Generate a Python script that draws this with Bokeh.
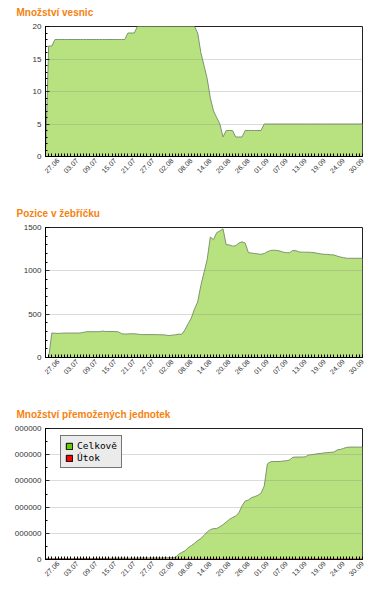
import math
from bokeh.plotting import figure
from bokeh.models import (FixedTicker, SingleIntervalTicker, Legend, LegendItem,
                          ColumnDataSource, Range1d)
from bokeh.layouts import column
from bokeh.embed import file_html
from bokeh.resources import INLINE

# ---------------- data ----------------
days = list(range(101))

date_ticks = [4, 10, 16, 22, 28, 34, 40, 46, 52, 58, 64, 70, 76, 82, 88, 94, 100]
date_labels = ["27.06", "03.07", "09.07", "15.07", "21.07", "27.07", "02.08", "08.08",
               "14.08", "20.08", "26.08", "01.09", "07.09", "13.09", "19.09", "24.09", "30.09"]

villages = [0, 17, 17, 18, 18, 18, 18, 18, 18, 18,
            18, 18, 18, 18, 18, 18, 18, 18, 18, 18,
            18, 18, 18, 18, 18, 18, 19, 19, 19, 20,
            20, 20, 20, 20, 20, 20, 20, 20, 20, 20,
            20, 20, 20, 20, 20, 20, 20, 20, 19, 16,
            14, 12, 9, 7, 6, 5, 3, 4, 4, 4,
            3, 3, 3, 4, 4, 4, 4, 4, 4, 5,
            5, 5, 5, 5, 5, 5, 5, 5, 5, 5,
            5, 5, 5, 5, 5, 5, 5, 5, 5, 5,
            5, 5, 5, 5, 5, 5, 5, 5, 5, 5,
            5]

rank = [0, 0, 283, 280, 278, 280, 282, 282, 282, 282,
        282, 283, 290, 298, 298, 298, 298, 298, 305, 300,
        300, 300, 300, 295, 275, 270, 272, 274, 273, 270,
        265, 264, 264, 264, 264, 264, 262, 262, 258, 253,
        258, 262, 270, 268, 320, 390, 455, 560, 640, 830,
        980, 1130, 1390, 1360, 1440, 1460, 1485, 1300, 1300, 1285,
        1290, 1320, 1335, 1320, 1210, 1205, 1200, 1195, 1190, 1200,
        1220, 1235, 1238, 1235, 1228, 1215, 1210, 1208, 1235, 1232,
        1218, 1215, 1215, 1215, 1212, 1208, 1200, 1195, 1190, 1190,
        1185, 1183, 1170, 1160, 1152, 1145, 1145, 1145, 1145, 1145,
        1145]

units_total = [30000, 30000, 30000, 30000, 30000, 30000, 30000, 30000, 30000, 30000,
               40000, 40000, 40000, 40000, 40000, 40000, 40000, 40000, 40000, 40000,
               50000, 50000, 50000, 50000, 50000, 50000, 50000, 50000, 50000, 50000,
               60000, 60000, 60000, 60000, 60000, 60000, 60000, 60000, 70000, 70000,
               70000, 80000, 200000, 270000, 330000, 450000, 530000, 620000, 720000, 800000,
               920000, 1050000, 1140000, 1180000, 1180000, 1250000, 1330000, 1430000, 1530000, 1600000,
               1660000, 1780000, 2050000, 2230000, 2270000, 2360000, 2400000, 2450000, 2530000, 2800000,
               3650000, 3730000, 3740000, 3740000, 3740000, 3760000, 3770000, 3800000, 3900000, 3910000,
               3910000, 3910000, 3920000, 3990000, 4000000, 4020000, 4040000, 4050000, 4070000, 4080000,
               4090000, 4100000, 4180000, 4200000, 4240000, 4280000, 4290000, 4290000, 4290000, 4290000,
               4290000]

units_attack = [10000, 10000, 10000, 10000, 10000, 10000, 10000, 10000, 10000, 10000,
                10000, 10000, 10000, 10000, 10000, 10000, 10000, 10000, 10000, 10000,
                10000, 10000, 10000, 10000, 10000, 10000, 10000, 10000, 10000, 10000,
                10000, 10000, 10000, 10000, 10000, 10000, 10000, 10000, 10000, 10000,
                10000, 12000, 12000, 12000, 12000, 12000, 12000, 12000, 12000, 12000,
                12000, 12000, 12000, 12000, 12000, 12000, 12000, 12000, 12000, 12000,
                12000, 12000, 12000, 12000, 12000, 12000, 12000, 12000, 12000, 12000,
                15000, 15000, 15000, 15000, 15000, 15000, 15000, 15000, 15000, 15000,
                15000, 15000, 15000, 15000, 15000, 15000, 15000, 15000, 15000, 15000,
                15000, 15000, 15000, 15000, 15000, 15000, 15000, 15000, 15000, 15000,
                15000]

y3_ticks = [0, 1000000, 2000000, 3000000, 4000000, 5000000]
y3_labels = ["0", "000000", "000000", "000000", "000000", "000000"]

# ---------------- style ----------------
GREEN = "#b8e27f"
EDGE = "#7d9470"
ORANGE = "#f5820f"
LABEL_FONT = "Liberation Sans"


def make_fig(title, ymax, interval, n_minor, height, bottom):
    p = figure(width=360, height=height, x_range=Range1d(0, 100), y_range=Range1d(0, ymax),
               output_backend="svg", toolbar_location=None,
               min_border_left=37, min_border_right=6, min_border_top=0,
               min_border_bottom=bottom)
    p.title.text = title
    p.title.text_font = "Liberation Sans"
    p.title.text_font_size = "10px"
    p.title.text_font_style = "bold"
    p.title.text_color = ORANGE
    p.title.align = "left"
    p.title.offset = -29
    p.title.standoff = 18

    p.outline_line_color = "#222222"
    p.background_fill_color = "white"

    # y axis
    p.yaxis.ticker = SingleIntervalTicker(interval=interval, num_minor_ticks=n_minor)
    p.yaxis.axis_line_color = "black"
    p.yaxis.major_tick_in = 4
    p.yaxis.major_tick_out = 0
    p.yaxis.minor_tick_in = 2
    p.yaxis.minor_tick_out = 0
    p.yaxis.major_tick_line_color = "black"
    p.yaxis.minor_tick_line_color = "black"
    p.yaxis.major_label_text_font = LABEL_FONT
    p.yaxis.major_label_text_font_size = "8px"
    p.yaxis.major_label_text_color = "#333333"
    p.yaxis.major_label_standoff = 4

    # x axis: one tick per day, labels every 6th day
    p.xaxis.ticker = FixedTicker(ticks=days)
    overrides = {d: "" for d in days}
    for t, lab in zip(date_ticks, date_labels):
        overrides[t] = lab
    p.xaxis.major_label_overrides = overrides
    p.xaxis.major_label_orientation = math.pi / 4
    p.xaxis.axis_line_color = "black"
    p.xaxis.major_tick_in = 3
    p.xaxis.major_tick_out = 0
    p.xaxis.major_tick_line_color = "black"
    p.xaxis.major_label_text_font = LABEL_FONT
    p.xaxis.major_label_text_font_size = "7px"
    p.xaxis.major_label_text_color = "#333333"
    p.xaxis.major_label_standoff = 3

    p.xgrid.visible = False
    p.ygrid.grid_line_color = "#888888"
    p.ygrid.grid_line_alpha = 0.3
    p.ygrid.level = "annotation"
    return p


def add_area(p, values, fill, edge):
    src = ColumnDataSource(dict(x=days, v=values))
    p.varea(x="x", y1=0, y2="v", source=src, fill_color=fill)
    p.line(x="x", y="v", source=src, line_color=edge, line_width=1)
    return src


p1 = make_fig("Množství vesnic", 20, 5, 5, 201, 40)
add_area(p1, villages, GREEN, EDGE)

p2 = make_fig("Pozice v žebříčku", 1500, 500, 5, 201, 40)
add_area(p2, rank, GREEN, EDGE)

p3 = make_fig("Množství přemožených jednotek", 5000000, 1000000, 2, 184, 0)
src_total = add_area(p3, units_total, GREEN, EDGE)
src_attack = add_area(p3, units_attack, "#ff0000", "#dd0000")
p3.yaxis.major_label_overrides = dict(zip(y3_ticks, y3_labels))

# legend swatches (hidden bar renderers of the same series, used only for the key)
g_key = p3.vbar(x="x", top="v", width=1, source=src_total, fill_color="#66cc00",
                line_color="black", visible=False)
r_key = p3.vbar(x="x", top="v", width=1, source=src_attack, fill_color="#ff0000",
                line_color="black", visible=False)
legend = Legend(items=[LegendItem(label="Celkově", renderers=[g_key]),
                       LegendItem(label="Útok", renderers=[r_key])],
                location=(15, 91))
legend.background_fill_color = "#ebebeb"
legend.background_fill_alpha = 1
legend.border_line_color = "black"
legend.border_line_width = 1
legend.label_text_font = "DejaVu Sans Mono"
legend.label_text_font_size = "9.5px"
legend.label_text_color = "black"
legend.glyph_width = 8
legend.glyph_height = 8
legend.label_height = 10
legend.label_standoff = 4
legend.spacing = 1
legend.padding = 4
legend.margin = 0
p3.add_layout(legend)

layout = column(p1, p2, p3, margin=(-5, 0, 0, 8))

open("out.html", "w").write(file_html(layout, INLINE))
